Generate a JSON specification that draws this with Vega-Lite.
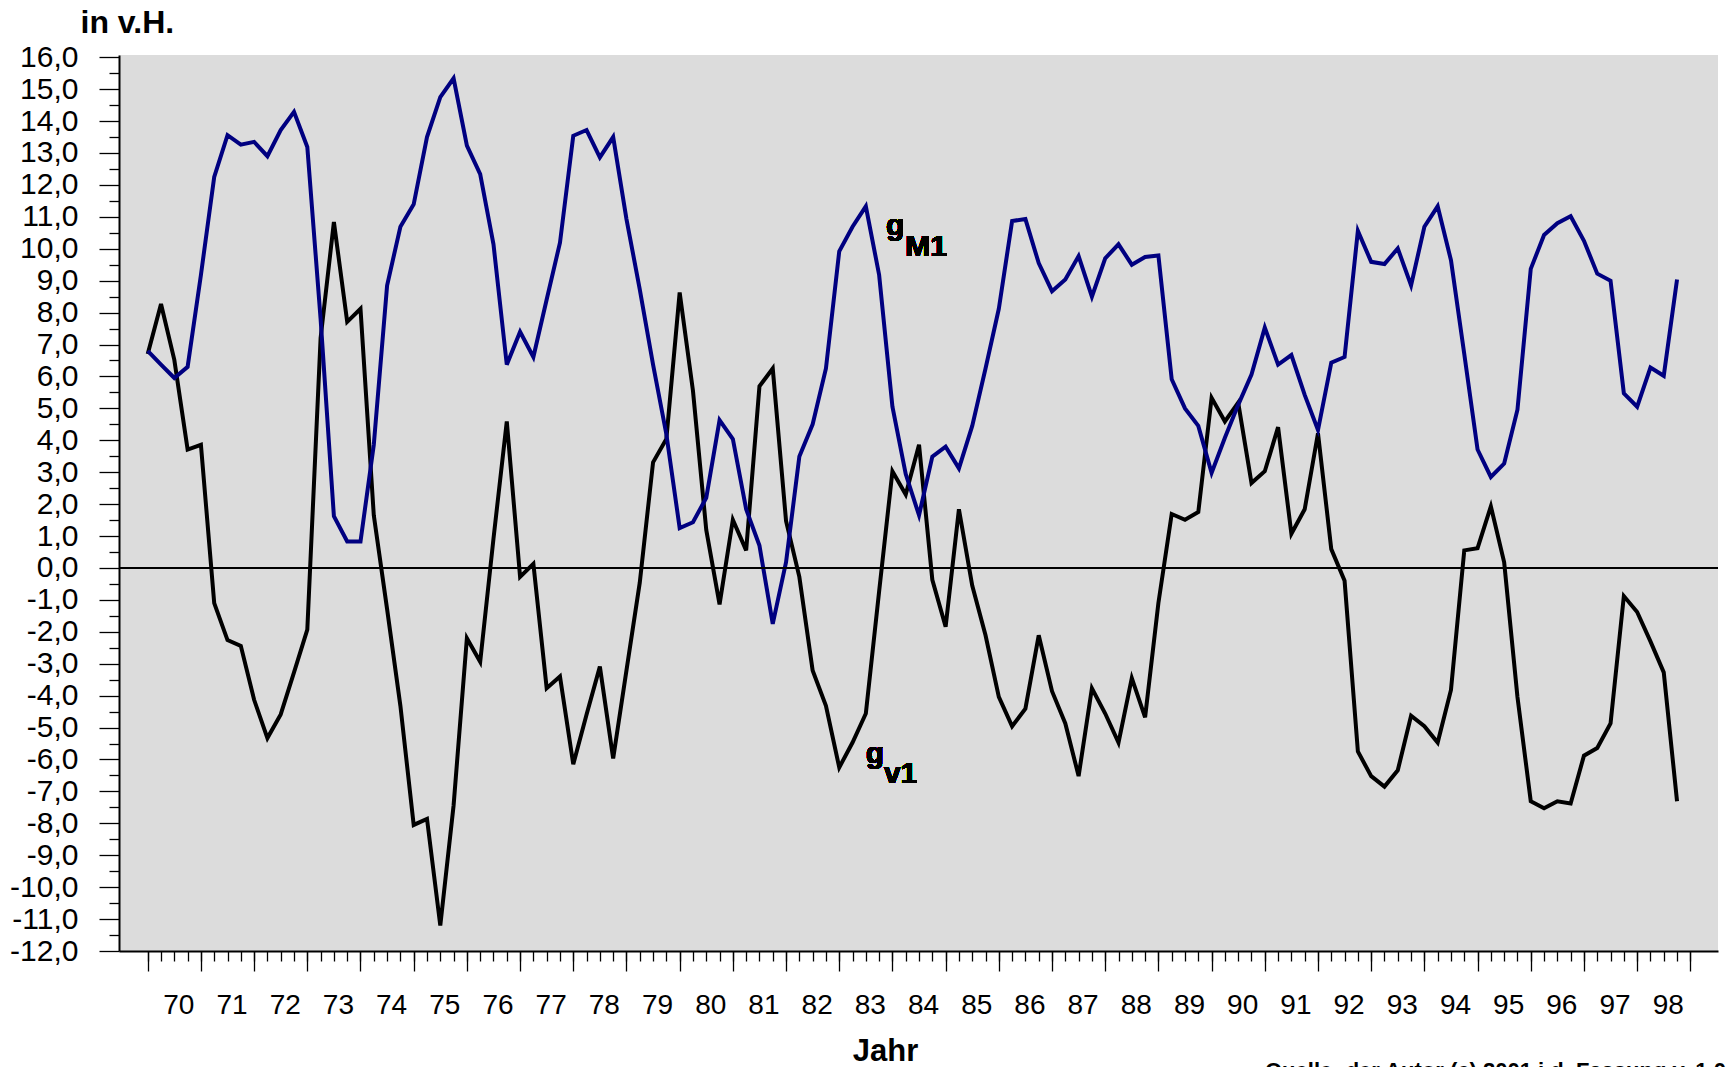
{
  "$schema": "https://vega.github.io/schema/vega-lite/v6.json",
  "width": 1599,
  "height": 896,
  "autosize": {"type": "none"},
  "padding": {"left": 119, "top": 55, "right": 11, "bottom": 116},
  "background": "white",
  "config": {
    "view": {"fill": "#dcdcdc", "stroke": null},
    "font": "Liberation Sans",
    "axis": {"labelFont": "Liberation Sans", "titleFont": "Liberation Sans"}
  },
  "resolve": {"axis": {"x": "independent", "y": "independent"}},
  "title": {
    "text": "Quelle: der Autor (c) 2001 i.d. Fassung v. 1.0",
    "orient": "bottom",
    "anchor": "start",
    "frame": "group",
    "dx": 1146,
    "dy": -5,
    "offset": 0,
    "fontSize": 22,
    "fontWeight": "bold",
    "color": "black",
    "font": "Liberation Sans"
  },
  "data": {
    "values": [
      {"Jahr": 1970.00, "gM1": 6.80, "gv1": 6.70},
      {"Jahr": 1970.25, "gM1": 6.37, "gv1": 8.27},
      {"Jahr": 1970.50, "gM1": 5.95, "gv1": 6.52},
      {"Jahr": 1970.75, "gM1": 6.30, "gv1": 3.71},
      {"Jahr": 1971.00, "gM1": 9.18, "gv1": 3.86},
      {"Jahr": 1971.25, "gM1": 12.25, "gv1": -1.10},
      {"Jahr": 1971.50, "gM1": 13.56, "gv1": -2.26},
      {"Jahr": 1971.75, "gM1": 13.26, "gv1": -2.44},
      {"Jahr": 1972.00, "gM1": 13.35, "gv1": -4.13},
      {"Jahr": 1972.25, "gM1": 12.90, "gv1": -5.33},
      {"Jahr": 1972.50, "gM1": 13.72, "gv1": -4.59},
      {"Jahr": 1972.75, "gM1": 14.29, "gv1": -3.27},
      {"Jahr": 1973.00, "gM1": 13.19, "gv1": -1.93},
      {"Jahr": 1973.25, "gM1": 7.80, "gv1": 7.20},
      {"Jahr": 1973.50, "gM1": 1.62, "gv1": 10.84},
      {"Jahr": 1973.75, "gM1": 0.83, "gv1": 7.71},
      {"Jahr": 1974.00, "gM1": 0.83, "gv1": 8.12},
      {"Jahr": 1974.25, "gM1": 3.86, "gv1": 1.65},
      {"Jahr": 1974.50, "gM1": 8.85, "gv1": -1.29},
      {"Jahr": 1974.75, "gM1": 10.69, "gv1": -4.32},
      {"Jahr": 1975.00, "gM1": 11.39, "gv1": -8.05},
      {"Jahr": 1975.25, "gM1": 13.50, "gv1": -7.86},
      {"Jahr": 1975.50, "gM1": 14.75, "gv1": -11.20},
      {"Jahr": 1975.75, "gM1": 15.34, "gv1": -7.44},
      {"Jahr": 1976.00, "gM1": 13.23, "gv1": -2.20},
      {"Jahr": 1976.25, "gM1": 12.34, "gv1": -2.94},
      {"Jahr": 1976.50, "gM1": 10.14, "gv1": 0.92},
      {"Jahr": 1976.75, "gM1": 6.37, "gv1": 4.59},
      {"Jahr": 1977.00, "gM1": 7.40, "gv1": -0.28},
      {"Jahr": 1977.25, "gM1": 6.61, "gv1": 0.13},
      {"Jahr": 1977.50, "gM1": 8.41, "gv1": -3.77},
      {"Jahr": 1977.75, "gM1": 10.19, "gv1": -3.40},
      {"Jahr": 1978.00, "gM1": 13.54, "gv1": -6.15},
      {"Jahr": 1978.25, "gM1": 13.72, "gv1": -4.59},
      {"Jahr": 1978.50, "gM1": 12.86, "gv1": -3.09},
      {"Jahr": 1978.75, "gM1": 13.50, "gv1": -5.97},
      {"Jahr": 1979.00, "gM1": 10.93, "gv1": -3.21},
      {"Jahr": 1979.25, "gM1": 8.73, "gv1": -0.46},
      {"Jahr": 1979.50, "gM1": 6.37, "gv1": 3.31},
      {"Jahr": 1979.75, "gM1": 4.19, "gv1": 4.04},
      {"Jahr": 1980.00, "gM1": 1.25, "gv1": 8.63},
      {"Jahr": 1980.25, "gM1": 1.43, "gv1": 5.55},
      {"Jahr": 1980.50, "gM1": 2.20, "gv1": 1.19},
      {"Jahr": 1980.75, "gM1": 4.63, "gv1": -1.14},
      {"Jahr": 1981.00, "gM1": 4.04, "gv1": 1.51},
      {"Jahr": 1981.25, "gM1": 1.84, "gv1": 0.55},
      {"Jahr": 1981.50, "gM1": 0.70, "gv1": 5.69},
      {"Jahr": 1981.75, "gM1": -1.75, "gv1": 6.25},
      {"Jahr": 1982.00, "gM1": 0.18, "gv1": 1.47},
      {"Jahr": 1982.25, "gM1": 3.49, "gv1": -0.28},
      {"Jahr": 1982.50, "gM1": 4.50, "gv1": -3.21},
      {"Jahr": 1982.75, "gM1": 6.25, "gv1": -4.32},
      {"Jahr": 1983.00, "gM1": 9.92, "gv1": -6.25},
      {"Jahr": 1983.25, "gM1": 10.69, "gv1": -5.47},
      {"Jahr": 1983.50, "gM1": 11.33, "gv1": -4.56},
      {"Jahr": 1983.75, "gM1": 9.18, "gv1": -0.73},
      {"Jahr": 1984.00, "gM1": 5.05, "gv1": 3.03},
      {"Jahr": 1984.25, "gM1": 2.94, "gv1": 2.30},
      {"Jahr": 1984.50, "gM1": 1.65, "gv1": 3.86},
      {"Jahr": 1984.75, "gM1": 3.49, "gv1": -0.37},
      {"Jahr": 1985.00, "gM1": 3.80, "gv1": -1.84},
      {"Jahr": 1985.25, "gM1": 3.12, "gv1": 1.84},
      {"Jahr": 1985.50, "gM1": 4.45, "gv1": -0.55},
      {"Jahr": 1985.75, "gM1": 6.25, "gv1": -2.11},
      {"Jahr": 1986.00, "gM1": 8.12, "gv1": -4.04},
      {"Jahr": 1986.25, "gM1": 10.87, "gv1": -4.96},
      {"Jahr": 1986.50, "gM1": 10.93, "gv1": -4.41},
      {"Jahr": 1986.75, "gM1": 9.55, "gv1": -2.11},
      {"Jahr": 1987.00, "gM1": 8.67, "gv1": -3.86},
      {"Jahr": 1987.25, "gM1": 9.04, "gv1": -4.87},
      {"Jahr": 1987.50, "gM1": 9.77, "gv1": -6.52},
      {"Jahr": 1987.75, "gM1": 8.50, "gv1": -3.77},
      {"Jahr": 1988.00, "gM1": 9.70, "gv1": -4.56},
      {"Jahr": 1988.25, "gM1": 10.14, "gv1": -5.47},
      {"Jahr": 1988.50, "gM1": 9.50, "gv1": -3.45},
      {"Jahr": 1988.75, "gM1": 9.74, "gv1": -4.68},
      {"Jahr": 1989.00, "gM1": 9.79, "gv1": -1.10},
      {"Jahr": 1989.25, "gM1": 5.91, "gv1": 1.69},
      {"Jahr": 1989.50, "gM1": 5.00, "gv1": 1.51},
      {"Jahr": 1989.75, "gM1": 4.45, "gv1": 1.75},
      {"Jahr": 1990.00, "gM1": 2.98, "gv1": 5.33},
      {"Jahr": 1990.25, "gM1": 4.08, "gv1": 4.59},
      {"Jahr": 1990.50, "gM1": 5.11, "gv1": 5.18},
      {"Jahr": 1990.75, "gM1": 6.06, "gv1": 2.66},
      {"Jahr": 1991.00, "gM1": 7.53, "gv1": 3.03},
      {"Jahr": 1991.25, "gM1": 6.37, "gv1": 4.41},
      {"Jahr": 1991.50, "gM1": 6.67, "gv1": 1.07},
      {"Jahr": 1991.75, "gM1": 5.42, "gv1": 1.84},
      {"Jahr": 1992.00, "gM1": 4.32, "gv1": 4.22},
      {"Jahr": 1992.25, "gM1": 6.43, "gv1": 0.59},
      {"Jahr": 1992.50, "gM1": 6.61, "gv1": -0.40},
      {"Jahr": 1992.75, "gM1": 10.56, "gv1": -5.75},
      {"Jahr": 1993.00, "gM1": 9.59, "gv1": -6.52},
      {"Jahr": 1993.25, "gM1": 9.52, "gv1": -6.85},
      {"Jahr": 1993.50, "gM1": 10.01, "gv1": -6.34},
      {"Jahr": 1993.75, "gM1": 8.85, "gv1": -4.63},
      {"Jahr": 1994.00, "gM1": 10.69, "gv1": -4.96},
      {"Jahr": 1994.25, "gM1": 11.33, "gv1": -5.47},
      {"Jahr": 1994.50, "gM1": 9.64, "gv1": -3.82},
      {"Jahr": 1994.75, "gM1": 6.70, "gv1": 0.55},
      {"Jahr": 1995.00, "gM1": 3.71, "gv1": 0.62},
      {"Jahr": 1995.25, "gM1": 2.85, "gv1": 1.93},
      {"Jahr": 1995.50, "gM1": 3.27, "gv1": 0.18},
      {"Jahr": 1995.75, "gM1": 4.96, "gv1": -4.04},
      {"Jahr": 1996.00, "gM1": 9.37, "gv1": -7.31},
      {"Jahr": 1996.25, "gM1": 10.43, "gv1": -7.53},
      {"Jahr": 1996.50, "gM1": 10.80, "gv1": -7.31},
      {"Jahr": 1996.75, "gM1": 11.02, "gv1": -7.38},
      {"Jahr": 1997.00, "gM1": 10.25, "gv1": -5.88},
      {"Jahr": 1997.25, "gM1": 9.22, "gv1": -5.64},
      {"Jahr": 1997.50, "gM1": 9.00, "gv1": -4.87},
      {"Jahr": 1997.75, "gM1": 5.47, "gv1": -0.88},
      {"Jahr": 1998.00, "gM1": 5.05, "gv1": -1.38},
      {"Jahr": 1998.25, "gM1": 6.28, "gv1": -2.30},
      {"Jahr": 1998.50, "gM1": 6.02, "gv1": -3.27},
      {"Jahr": 1998.75, "gM1": 9.04, "gv1": -7.31}
    ]
  },
  "layer": [
    {
      "mark": {"type": "line", "color": "black", "strokeWidth": 4, "strokeJoin": "miter"},
      "encoding": {
        "x": {
          "field": "Jahr",
          "type": "quantitative",
          "scale": {"domain": [1969.46, 1999.52], "nice": false, "zero": false},
          "axis": {
            "orient": "bottom",
            "values": [1970,1971,1972,1973,1974,1975,1976,1977,1978,1979,1980,1981,1982,1983,1984,1985,1986,1987,1988,1989,1990,1991,1992,1993,1994,1995,1996,1997,1998,1999],
            "title": "Jahr",
            "titleX": 766,
            "titleY": 109,
            "titleAlign": "center",
            "titleBaseline": "alphabetic",
            "titleFontSize": 31,
            "titleFontWeight": "bold",
            "titleColor": "black",
            "domainColor": "black",
            "domainWidth": 2,
            "tickColor": "black",
            "tickWidth": 1.3,
            "tickSize": 20,
            "labels": false,
            "grid": false
          }
        },
        "y": {
          "field": "gv1",
          "type": "quantitative",
          "scale": {"domain": [-12, 16.07], "nice": false, "zero": false},
          "axis": {
            "orient": "left",
            "values": [-12,-11,-10,-9,-8,-7,-6,-5,-4,-3,-2,-1,0,1,2,3,4,5,6,7,8,9,10,11,12,13,14,15,16],
            "title": "in v.H.",
            "titleAngle": 0,
            "titleX": -39,
            "titleY": -23,
            "titleAlign": "left",
            "titleBaseline": "alphabetic",
            "titleFontSize": 32,
            "titleFontWeight": "bold",
            "titleColor": "black",
            "domainColor": "black",
            "domainWidth": 2,
            "tickColor": "black",
            "tickWidth": 1.3,
            "tickSize": 20,
            "labelExpr": "(datum.value < 0 ? '-' : '') + replace(format(abs(datum.value), '.1f'), '.', ',')",
            "labelFontSize": 30,
            "labelColor": "black",
            "labelPadding": 21,
            "labelOverlap": false,
            "labelFlush": false,
            "labelBound": false,
            "grid": false
          }
        }
      }
    },
    {
      "mark": {"type": "line", "color": "#000080", "strokeWidth": 4, "strokeJoin": "miter"},
      "encoding": {
        "x": {
          "field": "Jahr",
          "type": "quantitative",
          "axis": {
            "orient": "bottom",
            "values": [1970,1970.25,1970.5,1970.75,1971,1971.25,1971.5,1971.75,1972,1972.25,1972.5,1972.75,1973,1973.25,1973.5,1973.75,1974,1974.25,1974.5,1974.75,1975,1975.25,1975.5,1975.75,1976,1976.25,1976.5,1976.75,1977,1977.25,1977.5,1977.75,1978,1978.25,1978.5,1978.75,1979,1979.25,1979.5,1979.75,1980,1980.25,1980.5,1980.75,1981,1981.25,1981.5,1981.75,1982,1982.25,1982.5,1982.75,1983,1983.25,1983.5,1983.75,1984,1984.25,1984.5,1984.75,1985,1985.25,1985.5,1985.75,1986,1986.25,1986.5,1986.75,1987,1987.25,1987.5,1987.75,1988,1988.25,1988.5,1988.75,1989,1989.25,1989.5,1989.75,1990,1990.25,1990.5,1990.75,1991,1991.25,1991.5,1991.75,1992,1992.25,1992.5,1992.75,1993,1993.25,1993.5,1993.75,1994,1994.25,1994.5,1994.75,1995,1995.25,1995.5,1995.75,1996,1996.25,1996.5,1996.75,1997,1997.25,1997.5,1997.75,1998,1998.25,1998.5,1998.75,1999],
            "title": null,
            "domain": false,
            "tickColor": "black",
            "tickWidth": 1.3,
            "tickSize": 10,
            "labelExpr": "datum.value % 1 === 0.5 ? '' + (floor(datum.value) % 100) : ''",
            "labelFontSize": 28,
            "labelColor": "black",
            "labelBaseline": "middle",
            "labelPadding": 44,
            "labelOffset": 4,
            "labelOverlap": false,
            "labelFlush": false,
            "labelBound": false,
            "grid": false
          }
        },
        "y": {
          "field": "gM1",
          "type": "quantitative",
          "axis": {
            "orient": "left",
            "values": [-11.5,-10.5,-9.5,-8.5,-7.5,-6.5,-5.5,-4.5,-3.5,-2.5,-1.5,-0.5,0.5,1.5,2.5,3.5,4.5,5.5,6.5,7.5,8.5,9.5,10.5,11.5,12.5,13.5,14.5,15.5],
            "title": null,
            "domain": false,
            "labels": false,
            "tickColor": "black",
            "tickWidth": 1.3,
            "tickSize": 10,
            "grid": false
          }
        }
      }
    },
    {
      "mark": {"type": "rule", "color": "black", "strokeWidth": 1.5},
      "encoding": {"y": {"datum": 0, "type": "quantitative", "axis": null}}
    },
    {
      "mark": {"type": "text", "text": "g", "fontSize": 30, "fontWeight": "bold", "align": "left", "baseline": "alphabetic", "color": "black"},
      "encoding": {
        "x": {"datum": 1983.88, "type": "quantitative", "axis": null},
        "y": {"datum": 10.43, "type": "quantitative", "axis": null}
      }
    },
    {
      "mark": {"type": "text", "text": "M1", "fontSize": 30, "fontWeight": "bold", "align": "left", "baseline": "alphabetic", "color": "black"},
      "encoding": {
        "x": {"datum": 1984.24, "type": "quantitative", "axis": null},
        "y": {"datum": 9.78, "type": "quantitative", "axis": null}
      }
    },
    {
      "mark": {"type": "text", "text": "g", "fontSize": 30, "fontWeight": "bold", "align": "left", "baseline": "alphabetic", "color": "black"},
      "encoding": {
        "x": {"datum": 1983.5, "type": "quantitative", "axis": null},
        "y": {"datum": -6.1, "type": "quantitative", "axis": null}
      }
    },
    {
      "mark": {"type": "text", "text": "v1", "fontSize": 30, "fontWeight": "bold", "align": "left", "baseline": "alphabetic", "color": "black"},
      "encoding": {
        "x": {"datum": 1983.84, "type": "quantitative", "axis": null},
        "y": {"datum": -6.75, "type": "quantitative", "axis": null}
      }
    }
  ]
}
